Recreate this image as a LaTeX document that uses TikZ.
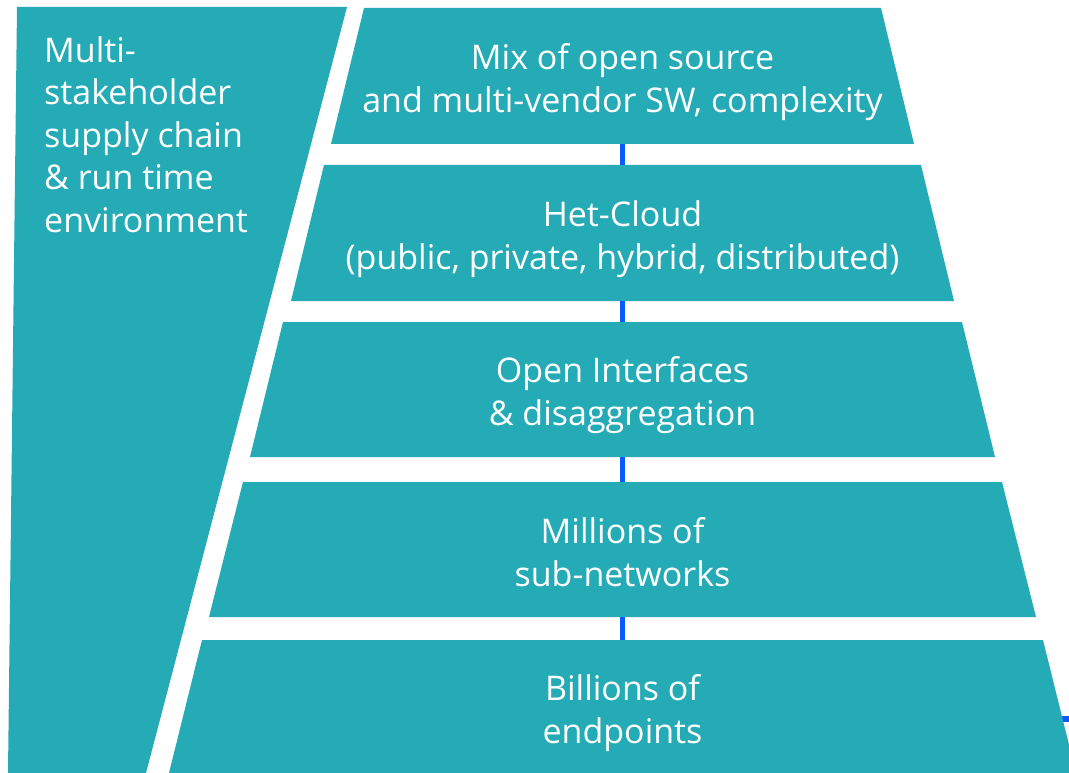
\documentclass[tikz,border=0pt]{standalone}
\usepackage{fontspec}
\setmainfont{Open Sans}
\definecolor{layerteal}{RGB}{36,171,182}
\definecolor{linkblue}{RGB}{8,92,255}
\tikzset{
  layer/.style={fill=layerteal},
  layertext/.style={text=white,align=center,inner sep=0pt,font=\fontsize{34}{43}\selectfont},
  sidetext/.style={text=white,align=left,inner sep=0pt,font=\fontsize{34}{42.5}\selectfont},
  link/.style={draw=linkblue,line width=5.5pt}
}
\begin{document}
\begin{tikzpicture}[x=1pt,y=-1pt]
    \useasboundingbox (0,0) rectangle (1069,773);
    \clip (0,0) rectangle (1069,773);

    % side panel: supply chain
    \fill[layer] (17,7) -- (347,7) -- (146,773) -- (8,773) -- cycle;
    \node[sidetext,anchor=north west] (chain) at (44,36)
        {Multi-\\stakeholder\\supply chain\\\& run time\\environment};

    % blue line leaving the bottom layer
    \coordinate (out) at (1069,719);
    \coordinate (mid5) at (622.5,719);
    \draw[link] (mid5) -- (out);

    % stacked layers, widening downwards
    \fill[layer] (364,8) -- (881,8) -- (914,144) -- (331,144) -- cycle;
    \fill[layer] (324,165) -- (921,165) -- (954,301) -- (291,301) -- cycle;
    \fill[layer] (283,322) -- (962,322) -- (995,457) -- (250,457) -- cycle;
    \fill[layer] (243,482) -- (1002,482) -- (1036,617) -- (209,617) -- cycle;
    \fill[layer] (202,640) -- (1043,640) -- (1076,773) -- (169,773) -- cycle;

    \node[layertext] (mix) at (622.5,82) {Mix of open source\\and multi-vendor SW, complexity};
    \node[layertext] (cloud) at (622.5,239) {Het-Cloud\\(public, private, hybrid, distributed)};
    \node[layertext] (iface) at (622.5,395) {Open Interfaces\\\& disaggregation};
    \node[layertext] (subnet) at (622.5,552) {Millions of\\sub-networks};
    \node[layertext] (endpt) at (622.5,713) {Billions of\\endpoints};

    % blue links in the gaps
    \foreach \a/\b/\ya/\yb in {mix/cloud/144/165, cloud/iface/301/322,
                               iface/subnet/457/482, subnet/endpt/617/640} {
        \coordinate (\a-s) at (622.5,\ya);
        \coordinate (\b-n) at (622.5,\yb);
        \draw[link] (\a-s) -- (\b-n);
    }
\end{tikzpicture}
\end{document}
